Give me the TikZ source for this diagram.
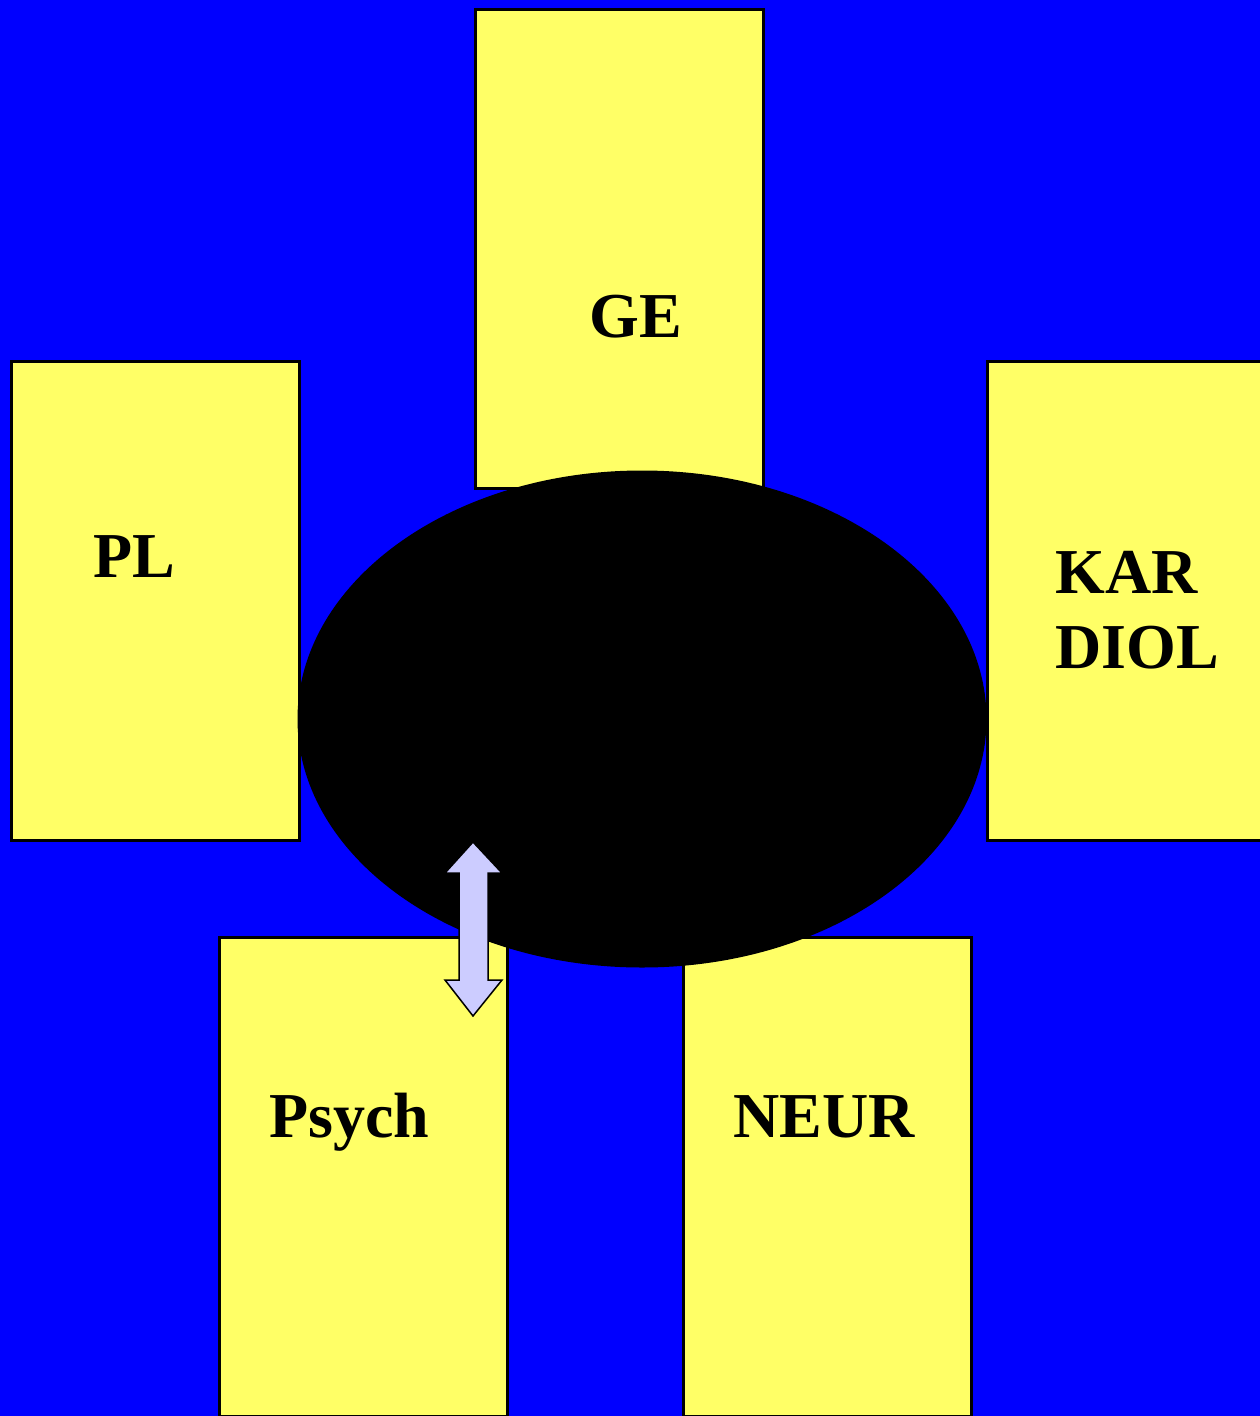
\documentclass[tikz,border=0pt]{standalone}
\usepackage{fontspec}
\setmainfont{Liberation Serif}
\usetikzlibrary{shapes.geometric, calc}
\definecolor{bgblue}{RGB}{0,0,255}
\definecolor{boxyellow}{RGB}{255,255,102}
\definecolor{linklav}{RGB}{204,204,255}

\begin{document}
\begin{tikzpicture}[x=1pt, y=-1pt,
      box/.style={rectangle, draw=black, line width=2.5pt, fill=boxyellow, minimum width=288pt, minimum height=479pt, inner sep=0pt, anchor=north west},
      lbl/.style={font=\fontsize{64}{75}\selectfont\bfseries, inner sep=0pt, align=left},
      core/.style={ellipse, fill=black, minimum width=689pt, minimum height=497pt, inner sep=0pt},
      linkarr/.style={fill=linklav, draw=black, line width=1.5pt, line join=miter}]
    \clip (0,0) rectangle (1260,1416);
    \fill[bgblue] (0,0) rectangle (1260,1416);
    % boxes round the core
    \node[box] (ge) at (474,8) {};
    \node[box] (pl) at (10,360) {};
    \node[box] (kar) at (986,360) {};
    \node[box] (psych) at (218,936) {};
    \node[box] (neur) at (682,936) {};
    \node[lbl, anchor=base] (ge-t) at (636,337) {GE};
    \node[lbl, anchor=base] (pl-t) at (134,577) {PL};
    \node[lbl, anchor=base west] (kar-t) at (1055,668) {KAR\\DIOL};
    \node[lbl, anchor=base] (psych-t) at (349,1137) {Psych};
    \node[lbl, anchor=base] (neur-t) at (824,1137) {NEUR};
    % core
    \node[core] (c) at (642,719) {};
    % double arrow between core and Psych
    \coordinate (link) at (473,929);
    \draw[linkarr] ($(link)+(0,-87)$) -- ++(29,31) -- ++(-14,0) -- ++(0,107)
      -- ++(14,0) -- ($(link)+(0,87)$) -- ++(-28,-36) -- ++(14,0) -- ++(0,-107)
      -- ++(-14,0) -- cycle;
  \end{tikzpicture}
\end{document}
